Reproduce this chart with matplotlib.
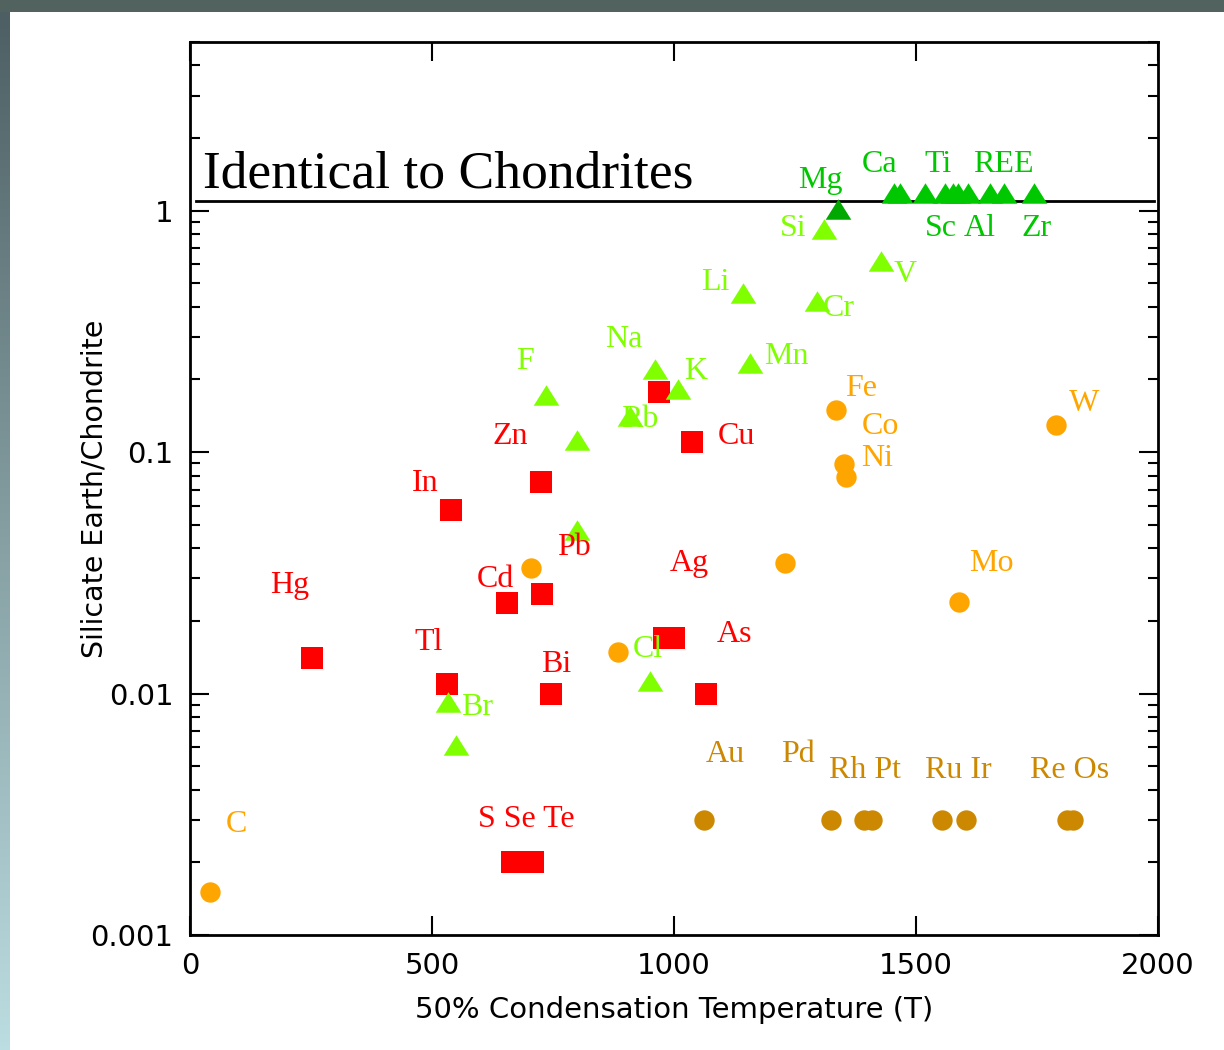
import numpy as np
import matplotlib
matplotlib.use("Agg")
import matplotlib.pyplot as plt

# chalcophile elements (red squares)
red_x = [252, 539, 725, 655, 727, 531, 746, 980, 1000, 1066, 1037, 969, 665, 686, 709]
red_y = [0.014, 0.0574, 0.075, 0.0237, 0.0258, 0.011, 0.010, 0.017, 0.017, 0.010, 0.11, 0.178,
         0.002, 0.002, 0.002]

# siderophile elements (orange circles)
orange_x = [41, 705, 884, 1229, 1335, 1351, 1355, 1789, 1589]
orange_y = [0.0015, 0.033, 0.0148, 0.0347, 0.149, 0.089, 0.0786, 0.129, 0.0239]

# highly siderophile elements (dark goldenrod circles)
hse_x = [1062, 1324, 1393, 1409, 1554, 1603, 1812, 1824]
hse_y = [0.003, 0.003, 0.003, 0.003, 0.003, 0.003, 0.003, 0.003]

# lithophile elements (light green triangles)
lith_x = [736, 800, 961, 1008, 909, 1157, 1143, 1295, 1310, 1428, 800, 533, 550, 950]
lith_y = [0.173, 0.112, 0.222, 0.182, 0.141, 0.235, 0.458, 0.424, 0.843, 0.621, 0.0474,
          0.0092, 0.0061, 0.0113]

# refractory lithophiles (dark green triangles)
refr_x = [1455, 1467, 1519, 1560, 1576, 1587, 1607, 1653, 1682, 1744]
refr_y = [1.19] * 10
mg_x, mg_y = [1339], [1.02]

# labels: (text, x, y)
red_labels = [("Hg", 205, 0.0284), ("In", 486, 0.075), ("Zn", 661, 0.118), ("Cd", 632, 0.030),
              ("Pb", 793, 0.0407), ("Tl", 492, 0.0165), ("Bi", 756, 0.0134), ("Ag", 1031, 0.035),
              ("As", 1126, 0.0179), ("Cu", 1128, 0.118), ("S Se Te", 694, 0.00305)]
lith_labels = [("F", 692, 0.242), ("Na", 897, 0.298), ("K", 1045, 0.22), ("Rb", 930, 0.138),
               ("Mn", 1233, 0.254), ("Li", 1085, 0.513), ("Cr", 1341, 0.401), ("Si", 1246, 0.859),
               ("V", 1477, 0.554), ("Br", 593, 0.00887), ("Cl", 946, 0.0154)]
refr_labels = [("Mg", 1302, 1.356), ("Ca", 1424, 1.58), ("Ti", 1545, 1.58), ("REE", 1680, 1.58),
               ("Sc", 1552, 0.859), ("Al", 1632, 0.859), ("Zr", 1748, 0.859)]
orange_labels = [("C", 95, 0.0029), ("Fe", 1386, 0.187), ("Co", 1426, 0.130), ("Ni", 1419, 0.096),
                 ("Mo", 1655, 0.035), ("W", 1847, 0.162)]
hse_labels = [("Au", 1105, 0.00567), ("Pd", 1256, 0.00567), ("Rh Pt", 1395, 0.00486),
              ("Ru Ir", 1587, 0.00486), ("Re Os", 1818, 0.00486)]

RED = "#ff0000"
LGREEN = "#80ff00"
DGREEN = "#00c800"
MGGREEN = "#00a800"
ORANGE = "#ffa500"
GOLD = "#cc8800"

fig = plt.figure(figsize=(12.24, 10.5), dpi=100)
fig.patch.set_facecolor("white")

# window frame decorations
strip = fig.add_axes([0, 0, 10 / 1224, 1])
grad = np.linspace(0, 1, 256).reshape(-1, 1)
cmap = matplotlib.colors.LinearSegmentedColormap.from_list("frame", ["#4c5e61", "#bcdde1"])
strip.imshow(grad, aspect="auto", cmap=cmap, origin="upper")
strip.axis("off")
top = fig.add_axes([0, 1 - 12 / 1050, 1, 12 / 1050])
top.set_facecolor("#51625f")
top.set_xticks([])
top.set_yticks([])
for s in top.spines.values():
    s.set_visible(False)

ax = fig.add_axes([190 / 1224, 1 - 935 / 1050, 968 / 1224, 893 / 1050])
ax.set_yscale("log")
ax.set_xlim(0, 2000)
ax.set_ylim(0.001, 5)

tri = [(-1, -0.8), (1, -0.8), (0, 0.8)]
ax.scatter(red_x, red_y, marker="s", s=230, color=RED, linewidths=0, zorder=3)
ax.scatter(orange_x, orange_y, marker="o", s=215, color=ORANGE, linewidths=0, zorder=3)
ax.scatter(hse_x, hse_y, marker="o", s=215, color=GOLD, linewidths=0, zorder=3)
ax.scatter(lith_x, lith_y, marker=tri, s=340, color=LGREEN, linewidths=0, zorder=3)
ax.scatter(refr_x, refr_y, marker=tri, s=340, color=DGREEN, linewidths=0, zorder=3)
ax.scatter(mg_x, mg_y, marker=tri, s=340, color=MGGREEN, linewidths=0, zorder=3)

ax.axhline(1.1, xmin=0.006, xmax=0.996, color="black", lw=2, zorder=2)
ax.text(27, 1.41, "Identical to Chondrites", fontsize=38.5, family="Liberation Serif",
        ha="left", va="center")

for group, col in [(red_labels, RED), (lith_labels, LGREEN), (refr_labels, DGREEN),
                   (orange_labels, ORANGE), (hse_labels, GOLD)]:
    for txt, x, y in group:
        ax.text(x, y * 0.985, txt, color=col, fontsize=23, family="Liberation Serif",
                ha="center", va="center", zorder=4)

ax.set_xticks([0, 500, 1000, 1500, 2000])
ax.set_yticks([0.001, 0.01, 0.1, 1])
ax.set_yticklabels(["0.001", "0.01", "0.1", "1"])
ax.tick_params(axis="both", which="major", direction="in", length=14, width=1.5,
               top=True, right=True, labelsize=21)
ax.tick_params(axis="y", which="minor", direction="in", length=7, width=1.5,
               left=True, right=True)
ax.tick_params(axis="x", which="minor", bottom=False, top=False)
ax.tick_params(axis="x", pad=12)
ax.tick_params(axis="y", pad=12)
for s in ax.spines.values():
    s.set_linewidth(2)

ax.set_xlabel("50% Condensation Temperature (T)", fontsize=21, labelpad=12)
ax.set_ylabel("Silicate Earth/Chondrite", fontsize=20.5, labelpad=-13)

fig.savefig("out.png", dpi=100)
